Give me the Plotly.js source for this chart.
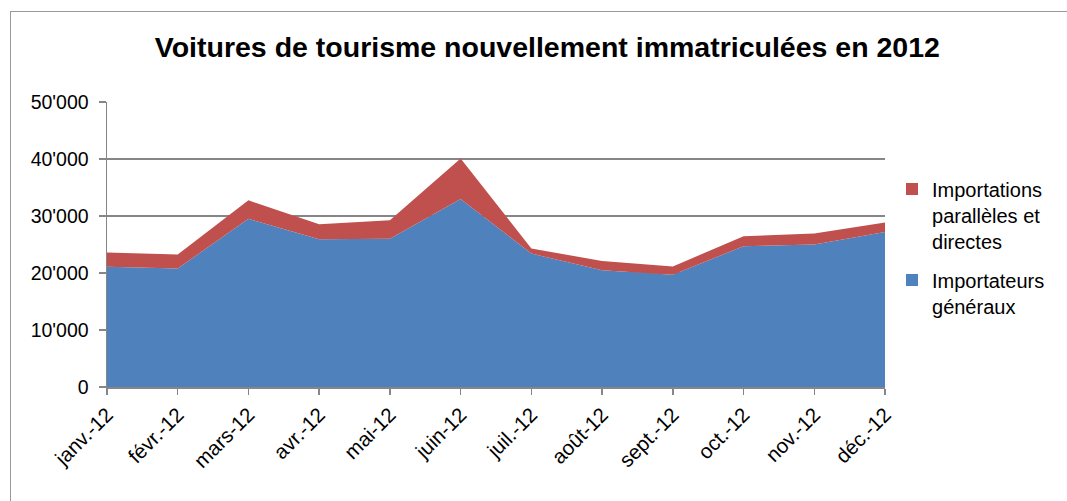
<!DOCTYPE html>
<html>
<head>
<meta charset="utf-8">
<script src="https://cdn.plot.ly/plotly-3.0.1.min.js"></script>
<style>
html, body { margin: 0; padding: 0; width: 1067px; height: 501px; overflow: hidden; background: #fff; }
#frame { position: absolute; left: 10px; top: 11px; width: 1200px; height: 600px; border: 1.5px solid #9a9a9a; pointer-events: none; z-index: 5; }
#chart { position: absolute; left: 0; top: 0; width: 1067px; height: 501px; }
</style>
</head>
<body>
<div id="chart"></div>
<div id="frame"></div>
<script>
const months = ["janv.-12", "févr.-12", "mars-12", "avr.-12", "mai-12", "juin-12",
                "juil.-12", "août-12", "sept.-12", "oct.-12", "nov.-12", "déc.-12"];
const importateursGeneraux = [21100, 20800, 29500, 25900, 26000, 33000, 23400, 20500, 19700, 24700, 25000, 27200];
const importationsParalleles = [2500, 2450, 3250, 2650, 3250, 7100, 900, 1600, 1450, 1750, 1950, 1650];
const seriesNames = ["Importateurs<br>généraux", "Importations<br>parallèles et<br>directes"];
const yTicks = [0, 10000, 20000, 30000, 40000, 50000];

const blue = "#4F81BD", red = "#C0504D";
const font = "Liberation Sans, Arial, sans-serif";

const traces = [
  { x: months, y: importateursGeneraux, type: "scatter", mode: "lines", stackgroup: "one",
    fillcolor: blue, line: { width: 0, color: blue }, showlegend: false, hoverinfo: "skip" },
  { x: months, y: importationsParalleles, type: "scatter", mode: "lines", stackgroup: "one",
    fillcolor: red, line: { width: 0, color: red }, showlegend: false, hoverinfo: "skip" },
  { x: [null], y: [null], type: "scatter", mode: "markers", name: seriesNames[1], legendgroup: "b",
    marker: { symbol: "square", size: 12, color: red } },
  { x: [null], y: [null], type: "scatter", mode: "markers", name: seriesNames[0], legendgroup: "a",
    marker: { symbol: "square", size: 12, color: blue } }
];

const layout = {
  width: 1067, height: 501,
  margin: { l: 107, r: 182, t: 102, b: 114, pad: 0 },
  paper_bgcolor: "rgba(0,0,0,0)", plot_bgcolor: "#fff",
  separators: ".'",
  font: { family: font, size: 19, color: "#000" },
  title: { text: "<b>Voitures de tourisme nouvellement immatriculées en 2012</b>",
           font: { family: font, size: 28.5, color: "#000" },
           x: 0.513, xanchor: "center", y: 0.906, yanchor: "middle" },
  xaxis: { type: "category", range: [0, 11], tickangle: -45,
           showline: true, linecolor: "#868686", linewidth: 1.5,
           ticks: "outside", ticklen: 6, tickcolor: "#868686", tickwidth: 1.5,
           showgrid: false, tickfont: { family: font, size: 20.5, color: "#000" } },
  yaxis: { range: [0, 50000], tickvals: yTicks, tickformat: ",d",
           showline: true, linecolor: "#868686", linewidth: 1.5,
           ticks: "outside", ticklen: 7, tickcolor: "#868686", tickwidth: 1.5,
           ticklabelstandoff: 6,
           showgrid: true, gridcolor: "#868686", gridwidth: 1.5,
           zeroline: false, tickfont: { family: font, size: 19.5, color: "#000" } },
  legend: { x: 1.009, xanchor: "left", y: 0.763, yanchor: "top",
            traceorder: "grouped", tracegroupgap: 10, valign: "top",
            font: { family: font, size: 20, color: "#000" }, bgcolor: "rgba(0,0,0,0)" },
  showlegend: true
};

Plotly.newPlot("chart", traces, layout, { displayModeBar: false, staticPlot: true });
</script>
</body>
</html>
